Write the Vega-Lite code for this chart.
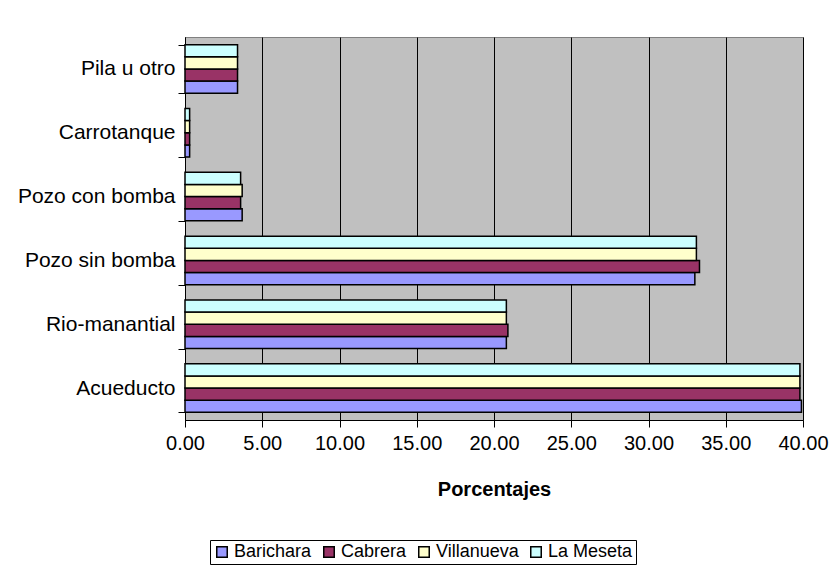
{
  "$schema": "https://vega.github.io/schema/vega-lite/v6.json",
  "width": 618,
  "height": 383,
  "autosize": {"type": "none"},
  "padding": {"left": 185, "top": 37, "right": 34, "bottom": 154},
  "background": "white",
  "data": {"values": [
    {"fuente": "Acueducto", "municipio": "Barichara", "pct": 39.9},
    {"fuente": "Acueducto", "municipio": "Cabrera", "pct": 39.8},
    {"fuente": "Acueducto", "municipio": "Villanueva", "pct": 39.8},
    {"fuente": "Acueducto", "municipio": "La Meseta", "pct": 39.8},
    {"fuente": "Rio-manantial", "municipio": "Barichara", "pct": 20.8},
    {"fuente": "Rio-manantial", "municipio": "Cabrera", "pct": 20.9},
    {"fuente": "Rio-manantial", "municipio": "Villanueva", "pct": 20.8},
    {"fuente": "Rio-manantial", "municipio": "La Meseta", "pct": 20.8},
    {"fuente": "Pozo sin bomba", "municipio": "Barichara", "pct": 33.0},
    {"fuente": "Pozo sin bomba", "municipio": "Cabrera", "pct": 33.3},
    {"fuente": "Pozo sin bomba", "municipio": "Villanueva", "pct": 33.1},
    {"fuente": "Pozo sin bomba", "municipio": "La Meseta", "pct": 33.1},
    {"fuente": "Pozo con bomba", "municipio": "Barichara", "pct": 3.7},
    {"fuente": "Pozo con bomba", "municipio": "Cabrera", "pct": 3.6},
    {"fuente": "Pozo con bomba", "municipio": "Villanueva", "pct": 3.7},
    {"fuente": "Pozo con bomba", "municipio": "La Meseta", "pct": 3.6},
    {"fuente": "Carrotanque", "municipio": "Barichara", "pct": 0.3},
    {"fuente": "Carrotanque", "municipio": "Cabrera", "pct": 0.3},
    {"fuente": "Carrotanque", "municipio": "Villanueva", "pct": 0.3},
    {"fuente": "Carrotanque", "municipio": "La Meseta", "pct": 0.3},
    {"fuente": "Pila u otro", "municipio": "Barichara", "pct": 3.4},
    {"fuente": "Pila u otro", "municipio": "Cabrera", "pct": 3.4},
    {"fuente": "Pila u otro", "municipio": "Villanueva", "pct": 3.4},
    {"fuente": "Pila u otro", "municipio": "La Meseta", "pct": 3.4}
  ]},
  "mark": {"type": "bar", "stroke": "black", "strokeWidth": 1.5},
  "encoding": {
    "y": {
      "field": "fuente", "type": "nominal",
      "sort": ["Pila u otro", "Carrotanque", "Pozo con bomba", "Pozo sin bomba", "Rio-manantial", "Acueducto"],
      "scale": {"paddingInner": 0.24, "paddingOuter": 0.12},
      "axis": {"title": null, "tickBand": "extent", "labelFontSize": 21, "labelFont": "Liberation Sans", "labelColor": "black", "labelPadding": 3, "tickSize": 7, "tickColor": "black", "domainColor": "black", "grid": false}
    },
    "yOffset": {
      "field": "municipio", "type": "nominal",
      "sort": ["La Meseta", "Villanueva", "Cabrera", "Barichara"],
      "scale": {"paddingInner": 0, "paddingOuter": 0}
    },
    "x": {
      "field": "pct", "type": "quantitative",
      "scale": {"domain": [0, 40], "nice": false},
      "axis": {"title": "Porcentajes", "values": [0, 5, 10, 15, 20, 25, 30, 35, 40], "format": ".2f", "labelFlush": false, "labelOverlap": false, "labelBound": false, "labelFontSize": 20, "labelFont": "Liberation Sans", "labelColor": "black", "labelPadding": 6, "tickSize": 7, "tickColor": "black", "domainColor": "black", "grid": true, "gridColor": "black", "gridWidth": 1, "titleFontSize": 20, "titleFont": "Liberation Sans", "titleFontWeight": "bold", "titleColor": "black", "titlePadding": 26}
    },
    "color": {
      "field": "municipio", "type": "nominal",
      "sort": ["Barichara", "Cabrera", "Villanueva", "La Meseta"],
      "scale": {"domain": ["Barichara", "Cabrera", "Villanueva", "La Meseta"], "range": ["#9999FF", "#993366", "#FFFFCC", "#CCFFFF"]},
      "legend": {
        "title": null, "orient": "none", "direction": "horizontal",
        "legendX": 25, "legendY": 503,
        "symbolType": "square", "symbolSize": 110, "symbolStrokeColor": "black", "symbolStrokeWidth": 1.5, "symbolOpacity": 1,
        "labelFontSize": 18, "labelFont": "Liberation Sans", "labelColor": "black", "labelOffset": 3,
        "columnPadding": 8, "strokeColor": "black", "padding": 3
      }
    }
  },
  "config": {
    "view": {"fill": "#C0C0C0", "stroke": "#808080"}
  }
}
